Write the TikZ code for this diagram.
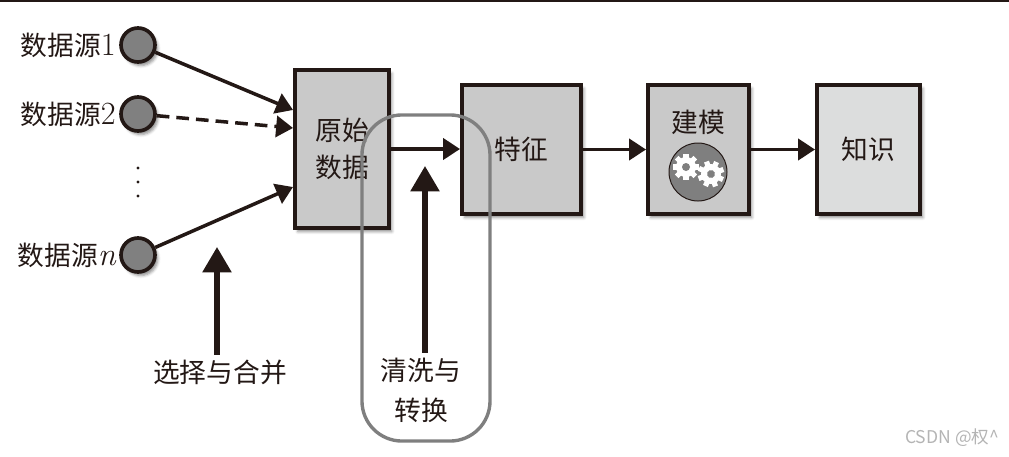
\documentclass[tikz,border=0pt]{standalone}
\usepackage{fontspec}
\newfontfamily\cjk{Noto Sans CJK SC}
\usetikzlibrary{arrows.meta, positioning, shadows.blur}

\definecolor{ink}{HTML}{231815}
\definecolor{boxgray}{HTML}{C9C9C9}
\definecolor{lightbox}{HTML}{DCDDDD}
\definecolor{dotgray}{HTML}{808080}
\definecolor{framegray}{HTML}{7F7F7F}
\definecolor{markgray}{HTML}{B4B4B4}

\tikzset{
  cog/.pic={
    \fill[white] (0,0) circle (0.25cm);
    \foreach \a in {0,45,...,315}
      \fill[white, rotate=\a] (-0.065cm,0.18cm) rectangle (0.065cm,0.33cm);
    \fill[framegray] (0,0) circle (0.1cm);
  }
}

\begin{document}
\begin{tikzpicture}[x=0.025cm, y=-0.025cm,
  >={Triangle[length=12pt,width=15pt]},
  font=\cjk\fontsize{19}{26}\selectfont, text=ink,
  stage/.style={draw=ink, line width=2.8pt, fill=boxgray, align=center, inner sep=0pt,
    blur shadow={shadow xshift=2pt, shadow yshift=-2.5pt, shadow blur radius=2pt, shadow opacity=45}},
  source/.style={circle, draw=ink, line width=2.6pt, fill=dotgray, minimum size=0.85cm, inner sep=0pt,
    blur shadow={shadow xshift=2pt, shadow yshift=-2.5pt, shadow blur radius=2pt, shadow opacity=45}},
  flow/.style={->, draw=ink, line width=2.5pt},
  hint/.style={-{Triangle[length=18pt,width=20pt]}, draw=ink, line width=3.6pt}]
  \useasboundingbox (0,0) rectangle (1009,456);
  \draw[ink, line width=1.2pt] (0,1) -- (1009,1);

  % Datenquellen
  \node[source] (src1) at (138,45) {};
  \node[source] (src2) at (138,114) {};
  \node[source] (srcn) at (138,255) {};
  \node[left=-1pt of src1] (lab1) {数据源{\rmfamily\fontsize{23}{26}\selectfont 1}};
  \node[left=-1pt of src2] (lab2) {数据源{\rmfamily\fontsize{23}{26}\selectfont 2}};
  \node[left=-1pt of srcn] (labn) {数据源{\rmfamily\itshape\fontsize{23}{26}\selectfont n}};
  \foreach \y in {168,182,196}
    \fill[ink] (138,\y) circle (1.2pt);

  % Stufen
  \node[stage, minimum width=2.35cm, minimum height=3.95cm] (raw) at (342,149) {原始\\数据};
  \node[stage, minimum width=2.975cm, minimum height=3.225cm] (feat) at (521.5,149.5) {特征};
  \node[stage, minimum width=2.525cm, minimum height=3.225cm] (model) at (698.5,149.5) {};
  \node[stage, fill=lightbox, minimum width=2.575cm, minimum height=3.225cm] (know) at (868.5,149.5) {知识};
  \node (modeltext) at (698,122) {建模};
  \node[circle, draw=ink, line width=0.7pt, fill=framegray, minimum size=1.45cm, inner sep=0pt] (gearbg) at (698,172) {};
  \pic at (686,167) {cog};
  \pic[rotate=20] at (711,174) {cog};

  \draw[flow] (src1) -- ([yshift=0.975cm]raw.west);
  \draw[flow, dash pattern=on 9pt off 5pt] (src2) -- ([yshift=0.525cm]raw.west);
  \draw[flow] (srcn) -- ([yshift=-0.95cm]raw.west);
  \draw[flow] (raw.east) -- (raw.east -| feat.west);
  \draw[flow] (feat) -- (model);
  \draw[flow] (model) -- (know);

  % Rahmen und Hinweise
  \node[draw=framegray, line width=2.4pt, rounded corners=1cm, minimum width=3.2cm, minimum height=8.15cm] (frame) at (426,278) {};
  \node (select) at (220,372) {选择与合并};
  \node[align=center, font=\cjk\fontsize{19}{28.5}\selectfont] (clean) at (421,390) {清洗与\\转换};
  \coordinate (selecttip) at (217,247);
  \coordinate (cleantip) at (425,166);
  \draw[hint] (select.north -| selecttip) -- (selecttip);
  \draw[hint] (clean.north -| cleantip) -- (cleantip);

  \node[anchor=east, text=markgray, font=\cjk\fontsize{12.5}{14}\selectfont] (mark) at (1004,438) {CSDN @权\textasciicircum};
\end{tikzpicture}
\end{document}
